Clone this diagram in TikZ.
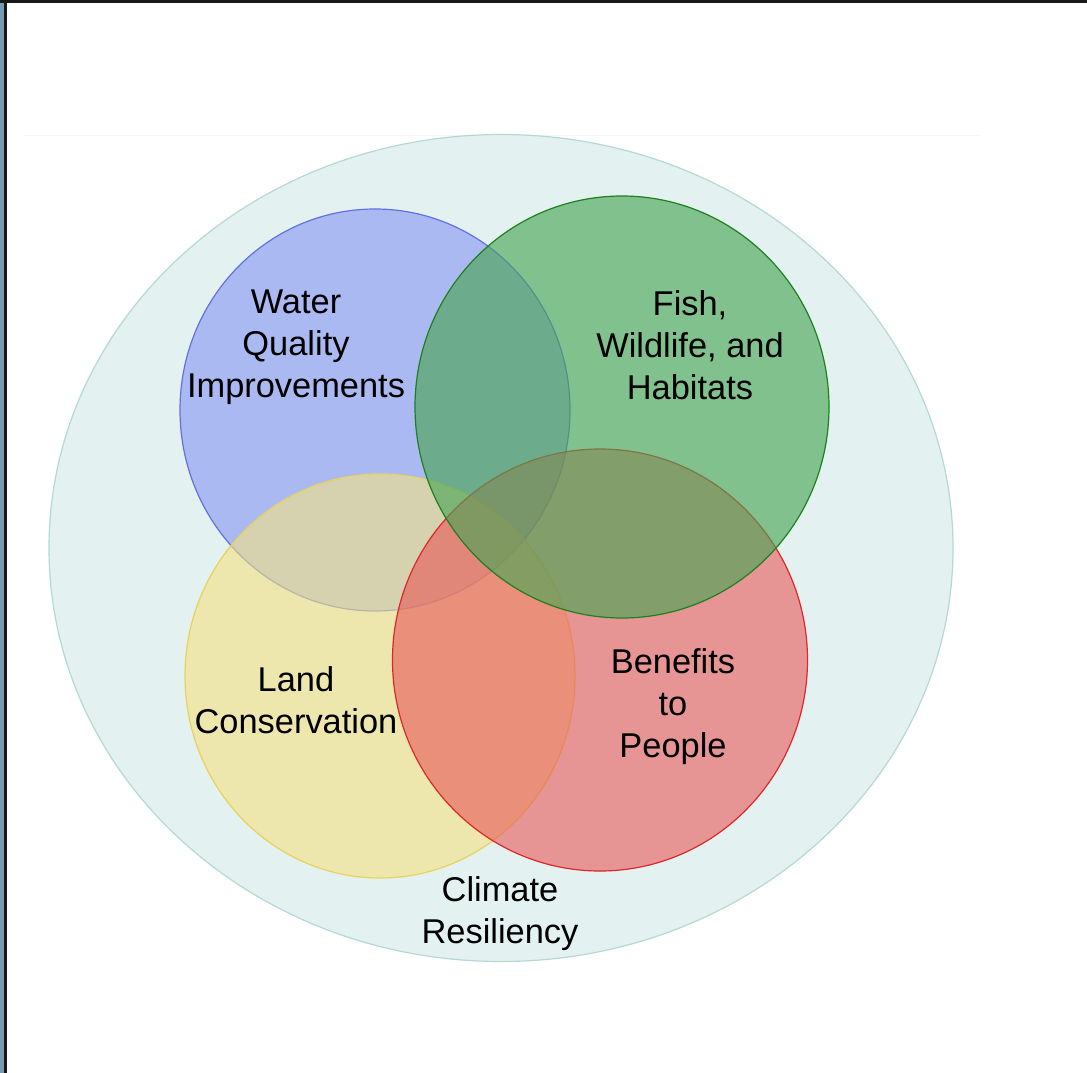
\documentclass[tikz,border=0pt]{standalone}
\usepackage{fontspec}
\setmainfont{Liberation Sans}
\definecolor{bgteal}{RGB}{227,242,240}
\definecolor{bgedge}{RGB}{182,216,212}
\definecolor{cblue}{RGB}{132,147,243}
\definecolor{cbluee}{RGB}{100,112,225}
\definecolor{cgreen}{RGB}{72,165,84}
\definecolor{cgreene}{RGB}{30,128,30}
\definecolor{cyellow}{RGB}{244,225,130}
\definecolor{cyellowe}{RGB}{232,210,90}
\definecolor{cred}{RGB}{232,87,88}
\definecolor{crede}{RGB}{220,40,40}
\definecolor{stripblue}{RGB}{120,155,180}
\begin{document}
\begin{tikzpicture}[x=1pt,y=-1pt,
  lbl/.style={font=\fontsize{34.4}{42}\selectfont, align=center, text=black, inner sep=0pt},
  venn/.style={fill opacity=0.6, line width=1.2pt}]
\useasboundingbox (0,0) rectangle (1087,1073);
\fill[white] (0,0) rectangle (1087,1073);
% frame
\fill[stripblue] (0,0) rectangle (4,1073);
\fill[black!90] (4,0) rectangle (7,1073);
\fill[black!90] (0,0) rectangle (1087,3);
% faint line
\draw[black!4, line width=1pt] (23,135) -- (980,135);
% big ellipse
\path[fill=bgteal, draw=bgedge, line width=1.2pt] (501,548) ellipse [x radius=452, y radius=413.5];
\coordinate (cb) at (375,410);
\coordinate (cy) at (380,676);
\coordinate (cr) at (600,660);
\coordinate (cg) at (622,407);
\path[venn, fill=cblue, draw=cbluee] (cb) ellipse [x radius=195, y radius=201];
\path[venn, fill=cyellow, draw=cyellowe] (cy) ellipse [x radius=195, y radius=202];
\path[venn, fill=cred, draw=crede] (cr) ellipse [x radius=207.5, y radius=211];
\path[venn, fill opacity=0.63, fill=cgreen, draw=cgreene] (cg) ellipse [x radius=207, y radius=211];
\node[lbl] (water) at (296,347) {Water\\Quality\\Improvements};
\node[lbl] (fish) at (690,345) {Fish,\\Wildlife, and\\Habitats};
\node[lbl] (land) at (296,700) {Land\\Conservation};
\node[lbl] (people) at (673,707) {Benefits\\to\\People};
\node[lbl] (climate) at (500,914) {Climate\\Resiliency};
\end{tikzpicture}
\end{document}
